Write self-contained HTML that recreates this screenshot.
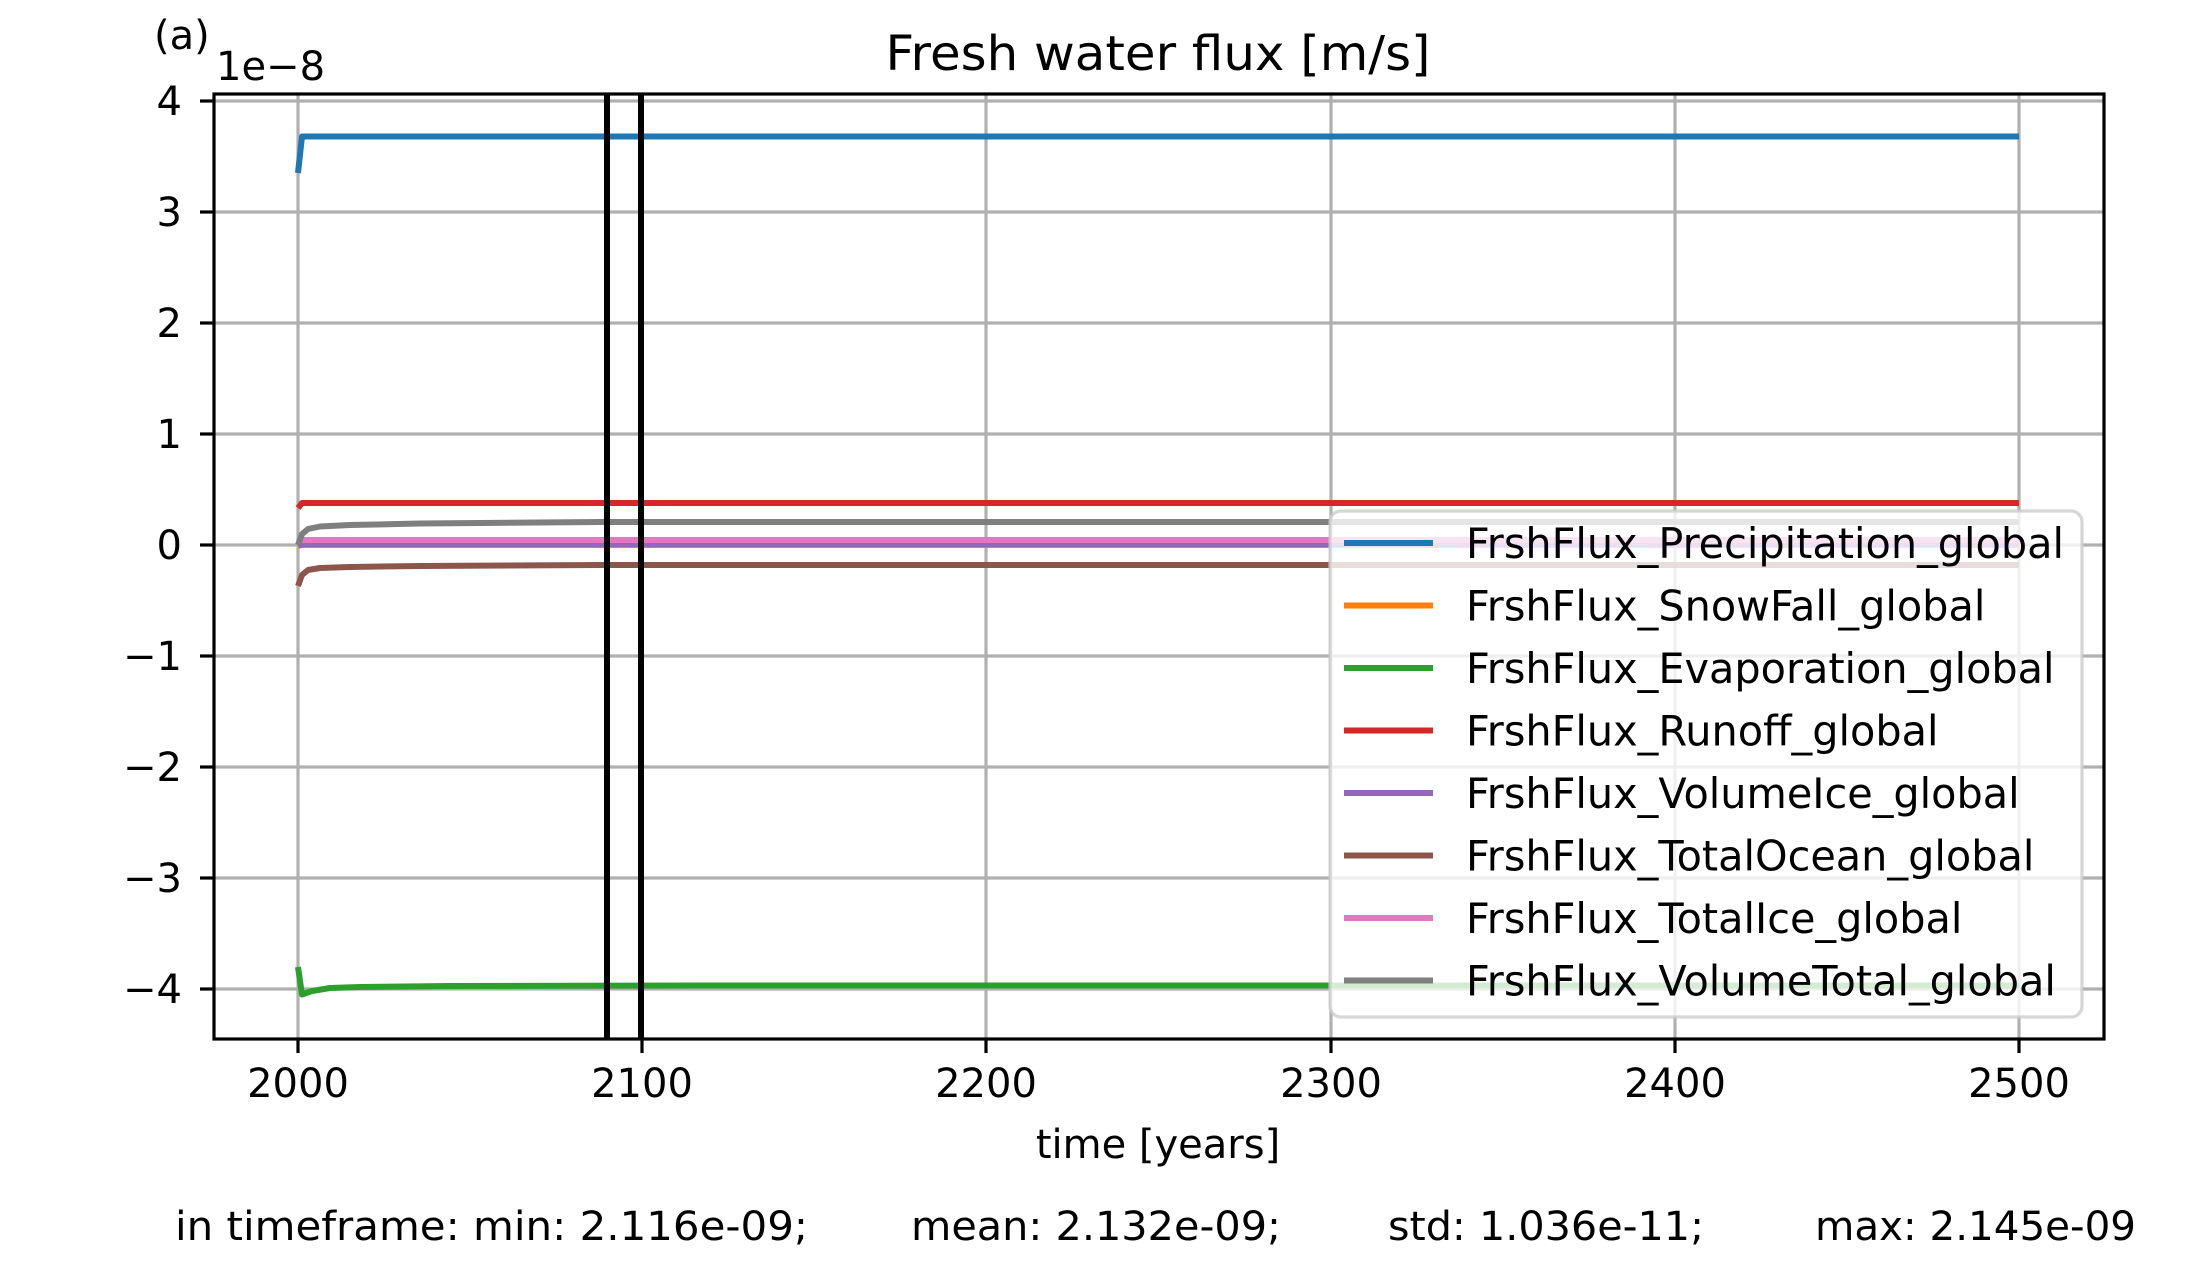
<!DOCTYPE html>
<html><head><meta charset="utf-8"><style>html,body{margin:0;padding:0;background:#fff}svg{display:block}</style></head>
<body>
<svg width="2196" height="1263" viewBox="0 0 2196 1263" xmlns="http://www.w3.org/2000/svg" font-family="DejaVu Sans, Liberation Sans, sans-serif">
<rect width="2196" height="1263" fill="#fff"/>
<g stroke="#b0b0b0" stroke-width="3.2">
<line x1="298" y1="94" x2="298" y2="1039"/><line x1="642" y1="94" x2="642" y2="1039"/><line x1="986" y1="94" x2="986" y2="1039"/><line x1="1331" y1="94" x2="1331" y2="1039"/><line x1="1675" y1="94" x2="1675" y2="1039"/><line x1="2019" y1="94" x2="2019" y2="1039"/>
<line x1="214" y1="101" x2="2104" y2="101"/><line x1="214" y1="212" x2="2104" y2="212"/><line x1="214" y1="323" x2="2104" y2="323"/><line x1="214" y1="434" x2="2104" y2="434"/><line x1="214" y1="545" x2="2104" y2="545"/><line x1="214" y1="656" x2="2104" y2="656"/><line x1="214" y1="767" x2="2104" y2="767"/><line x1="214" y1="878" x2="2104" y2="878"/><line x1="214" y1="989" x2="2104" y2="989"/>
</g>
<g fill="none" stroke-width="6" stroke-linejoin="round">
<polyline stroke="#1f77b4" points="298,173 302,136.5 2019,136.5"/>
<polyline stroke="#ff7f0e" points="298,546 302,545 2019,545"/>
<polyline stroke="#2ca02c" points="298,967 302,994.5 312,991 330,988 360,987 450,986 700,985.5 2019,985.5"/>
<polyline stroke="#d62728" points="298,508 302,503 2019,503"/>
<polyline stroke="#9467bd" points="298,546 302,544 2019,544"/>
<polyline stroke="#8c564b" points="298,586 302,575 308,570 320,568 350,567 420,566 600,565 2019,565"/>
<polyline stroke="#e377c2" points="298,542 302,540 2019,540"/>
<polyline stroke="#7f7f7f" points="298,545 302,534 308,529 320,526.5 350,525 420,523.5 600,522 2019,522"/>
</g>
<line x1="607" y1="94" x2="607" y2="1039" stroke="#000" stroke-width="6"/>
<line x1="641" y1="94" x2="641" y2="1039" stroke="#000" stroke-width="6"/>
<rect x="214" y="94" width="1890" height="945" fill="none" stroke="#000" stroke-width="3.2"/>
<g stroke="#000" stroke-width="3.2">
<line x1="298" y1="1039" x2="298" y2="1053"/><line x1="642" y1="1039" x2="642" y2="1053"/><line x1="986" y1="1039" x2="986" y2="1053"/><line x1="1331" y1="1039" x2="1331" y2="1053"/><line x1="1675" y1="1039" x2="1675" y2="1053"/><line x1="2019" y1="1039" x2="2019" y2="1053"/>
<line x1="200" y1="101" x2="214" y2="101"/><line x1="200" y1="212" x2="214" y2="212"/><line x1="200" y1="323" x2="214" y2="323"/><line x1="200" y1="434" x2="214" y2="434"/><line x1="200" y1="545" x2="214" y2="545"/><line x1="200" y1="656" x2="214" y2="656"/><line x1="200" y1="767" x2="214" y2="767"/><line x1="200" y1="878" x2="214" y2="878"/><line x1="200" y1="989" x2="214" y2="989"/>
</g>
<g font-size="40" fill="#000" text-anchor="middle">
<text x="298" y="1097">2000</text><text x="642" y="1097">2100</text><text x="986" y="1097">2200</text><text x="1331" y="1097">2300</text><text x="1675" y="1097">2400</text><text x="2019" y="1097">2500</text>
</g>
<g font-size="40" fill="#000" text-anchor="end">
<text x="182" y="115">4</text><text x="182" y="226">3</text><text x="182" y="337">2</text><text x="182" y="448">1</text><text x="182" y="559">0</text><text x="182" y="670">−1</text><text x="182" y="781">−2</text><text x="182" y="892">−3</text><text x="182" y="1003">−4</text>
</g>
<text x="216" y="80" font-size="40">1e−8</text>
<text x="154" y="49" font-size="40">(a)</text>
<text x="1158" y="70" font-size="48" text-anchor="middle" textLength="545" lengthAdjust="spacingAndGlyphs">Fresh water flux [m/s]</text>
<text x="1158" y="1158" font-size="40" text-anchor="middle">time [years]</text>
<g font-size="40">
<text x="175" y="1240" textLength="633" lengthAdjust="spacingAndGlyphs">in timeframe: min: 2.116e-09;</text>
<text x="911" y="1240" textLength="370" lengthAdjust="spacingAndGlyphs">mean: 2.132e-09;</text>
<text x="1388" y="1240" textLength="316" lengthAdjust="spacingAndGlyphs">std: 1.036e-11;</text>
<text x="1815" y="1240" textLength="321" lengthAdjust="spacingAndGlyphs">max: 2.145e-09</text>
</g>
<rect x="1330" y="511" width="752" height="506" rx="11" fill="#fff" fill-opacity="0.8" stroke="#cccccc" stroke-opacity="0.8" stroke-width="3.2"/>
<g stroke-width="6">
<line x1="1344" x2="1433" y1="543" y2="543" stroke="#1f77b4"/>
<line x1="1344" x2="1433" y1="605.5" y2="605.5" stroke="#ff7f0e"/>
<line x1="1344" x2="1433" y1="668" y2="668" stroke="#2ca02c"/>
<line x1="1344" x2="1433" y1="730.5" y2="730.5" stroke="#d62728"/>
<line x1="1344" x2="1433" y1="793" y2="793" stroke="#9467bd"/>
<line x1="1344" x2="1433" y1="855.5" y2="855.5" stroke="#8c564b"/>
<line x1="1344" x2="1433" y1="918" y2="918" stroke="#e377c2"/>
<line x1="1344" x2="1433" y1="980.5" y2="980.5" stroke="#7f7f7f"/>
</g>
<g font-size="41.4" fill="#000">
<text x="1466" y="558" textLength="598" lengthAdjust="spacingAndGlyphs">FrshFlux_Precipitation_global</text>
<text x="1466" y="620.5">FrshFlux_SnowFall_global</text>
<text x="1466" y="683">FrshFlux_Evaporation_global</text>
<text x="1466" y="745.5">FrshFlux_Runoff_global</text>
<text x="1466" y="808">FrshFlux_VolumeIce_global</text>
<text x="1466" y="870.5">FrshFlux_TotalOcean_global</text>
<text x="1466" y="933">FrshFlux_TotalIce_global</text>
<text x="1466" y="995.5">FrshFlux_VolumeTotal_global</text>
</g>
</svg>
</body></html>
